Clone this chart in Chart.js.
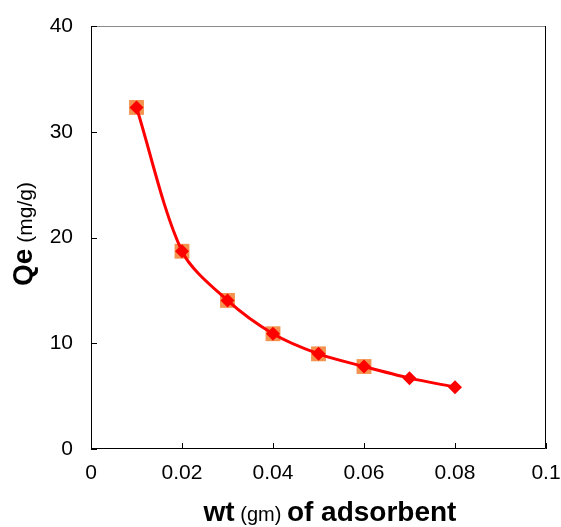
<!DOCTYPE html>
<html>
<head>
<meta charset="utf-8">
<script src="https://cdn.jsdelivr.net/npm/chart.js@4"></script>
<style>
  html, body { margin: 0; padding: 0; background: #fff; }
  #wrap { width: 561px; height: 527px; }
</style>
</head>
<body>
<div id="wrap"><canvas id="qeChart" width="561" height="527"></canvas></div>
<script>
// adsorbent weight (gm) and Qe (mg/g)
const weights = [0.01, 0.02, 0.03, 0.04, 0.05, 0.06, 0.07, 0.08];
const qeValues = [32.3, 18.7, 14.05, 10.9, 9.0, 7.8, 6.7, 5.85];
// orange squares only on the first six points
const squareWeights = [0.01, 0.02, 0.03, 0.04, 0.05, 0.06];
const squareQe = [32.3, 18.7, 14.05, 10.9, 9.0, 7.8];

const xTicks = [0, 0.02, 0.04, 0.06, 0.08, 0.1];
const yTicks = [0, 10, 20, 30, 40];

const FONT = 'Arial, "Liberation Sans", sans-serif';

// frame, inward ticks and mixed-font axis titles
const framePlugin = {
    id: 'frame',
    afterDraw(chart) {
        const { ctx, chartArea: a, scales } = chart;
        ctx.save();
        ctx.lineWidth = 1;
        // top border is grey, the others black
        ctx.strokeStyle = '#8c8c8c';
        ctx.beginPath();
        ctx.moveTo(a.left, a.top + 0.5);
        ctx.lineTo(a.right, a.top + 0.5);
        ctx.stroke();
        ctx.strokeStyle = '#000';
        ctx.beginPath();
        ctx.moveTo(a.left + 0.5, a.top);
        ctx.lineTo(a.left + 0.5, a.bottom - 0.5);
        ctx.lineTo(a.right - 0.5, a.bottom - 0.5);
        ctx.lineTo(a.right - 0.5, a.top);
        xTicks.forEach(v => {
            const px = Math.round(scales.x.getPixelForValue(v)) + 0.5;
            ctx.moveTo(px, a.bottom);
            ctx.lineTo(px, a.bottom - 6);
        });
        yTicks.forEach(v => {
            const py = Math.round(scales.y.getPixelForValue(v)) + 0.5;
            ctx.moveTo(a.left, py);
            ctx.lineTo(a.left + 6, py);
        });
        ctx.stroke();

        // x title
        ctx.fillStyle = '#000';
        ctx.textBaseline = 'alphabetic';
        ctx.textAlign = 'left';
        const parts = [
            { t: 'wt', f: 'bold 28px ' + FONT },
            { t: ' (gm) ', f: '20px ' + FONT },
            { t: 'of adsorbent', f: 'bold 28px ' + FONT }
        ];
        let total = 0;
        parts.forEach(p => { ctx.font = p.f; p.w = ctx.measureText(p.t).width; total += p.w; });
        let x = 330 - total / 2;
        parts.forEach(p => { ctx.font = p.f; ctx.fillText(p.t, x, 521); x += p.w; });

        // y title
        ctx.translate(32, 234);
        ctx.rotate(-Math.PI / 2);
        const yparts = [
            { t: 'Qe', f: 'bold 28px ' + FONT },
            { t: ' (mg/g)', f: '21px ' + FONT }
        ];
        total = 0;
        yparts.forEach(p => { ctx.font = p.f; p.w = ctx.measureText(p.t).width; total += p.w; });
        x = -total / 2;
        yparts.forEach(p => { ctx.font = p.f; ctx.fillText(p.t, x, 0); x += p.w; });
        ctx.restore();
    }
};

new Chart(document.getElementById('qeChart'), {
    type: 'scatter',
    data: {
        datasets: [
            {
                label: 'Qe',
                data: weights.map((w, i) => ({ x: w, y: qeValues[i] })),
                showLine: true,
                borderColor: '#ff0000',
                borderWidth: 3,
                tension: 0.3,
                pointStyle: 'rectRot',
                pointRadius: 7,
                pointBackgroundColor: '#ff0000',
                pointBorderWidth: 0,
                order: 1
            },
            {
                label: 'Qe squares',
                data: squareWeights.map((w, i) => ({ x: w, y: squareQe[i] })),
                showLine: false,
                pointStyle: 'rect',
                pointRadius: 10.5,
                pointBackgroundColor: 'rgba(240, 128, 48, 0.85)',
                pointBorderWidth: 0,
                order: 2
            }
        ]
    },
    options: {
        responsive: false,
        animation: false,
        layout: { padding: { top: 26, right: 15, left: 0, bottom: 0 } },
        plugins: {
            legend: { display: false },
            tooltip: { enabled: false }
        },
        scales: {
            x: {
                type: 'linear',
                min: 0,
                max: 0.1,
                afterFit: s => { s.height = 78; s.paddingLeft = 0; s.paddingRight = 0; },
                afterBuildTicks: s => { s.ticks = xTicks.map(v => ({ value: v })); },
                grid: { display: false, drawTicks: false },
                border: { display: false },
                ticks: {
                    padding: 12,
                    color: '#000',
                    font: { family: FONT, size: 21 },
                    maxRotation: 0,
                    callback: v => String(v)
                }
            },
            y: {
                min: 0,
                max: 40,
                afterFit: s => { s.width = 91; s.paddingTop = 0; s.paddingBottom = 0; },
                afterBuildTicks: s => { s.ticks = yTicks.map(v => ({ value: v })); },
                grid: { display: false, drawTicks: false },
                border: { display: false },
                ticks: {
                    padding: 18,
                    color: '#000',
                    font: { family: FONT, size: 21 },
                    callback: v => String(v)
                }
            }
        }
    },
    plugins: [framePlugin]
});
</script>
</body>
</html>
